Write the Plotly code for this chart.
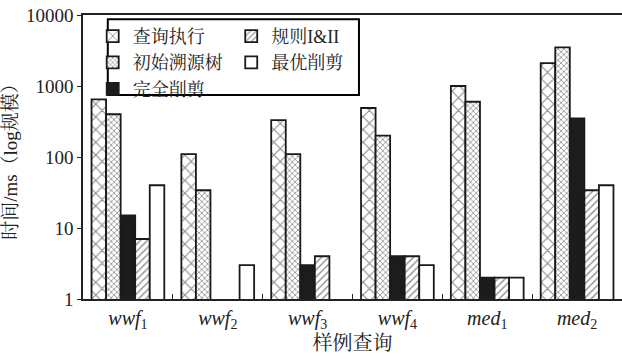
import plotly.graph_objects as go

# Sample queries (x categories)
queries = ["<i>wwf</i><sub>1</sub>", "<i>wwf</i><sub>2</sub>", "<i>wwf</i><sub>3</sub>",
           "<i>wwf</i><sub>4</sub>", "<i>med</i><sub>1</sub>", "<i>med</i><sub>2</sub>"]

# Execution time in ms for each method (None = no bar)
query_exec = [650, 110, 330, 490, 1000, 2100]       # 查询执行
initial_tree = [400, 34, 110, 200, 600, 3500]       # 初始溯源树
full_prune = [15, None, 3, 4, 2, 350]               # 完全削剪
rule_12 = [7, None, 4, 4, 2, 34]                    # 规则I&II
optimal_prune = [40, 3, None, 3, 2, 40]             # 最优削剪

FONT = "Liberation Serif, Noto Serif CJK SC, Noto Sans CJK SC, serif"
INK = "#222"

series = [
    ("查询执行", query_exec, dict(shape="x", size=9, solidity=0.24, fgcolor="#1e1e1e", bgcolor="white"), "legend", 1),
    ("初始溯源树", initial_tree, dict(shape="x", size=4, solidity=0.4, fgcolor="#333", bgcolor="white"), "legend", 2),
    ("完全削剪", full_prune, None, "legend", 3),
    ("规则I&II", rule_12, dict(shape="/", size=5, solidity=0.3, fgcolor="#333", bgcolor="white"), "legend2", 1),
    ("最优削剪", optimal_prune, None, "legend2", 2),
]

fig = go.Figure()
for name, vals, pattern, leg, rank in series:
    color = "#1c1c1c" if name == "完全削剪" else "white"
    marker = dict(color=color, line=dict(color="#1a1a1a", width=1.8))
    if pattern:
        marker["pattern"] = pattern
    fig.add_trace(go.Bar(name=name, x=queries, y=vals, marker=marker,
                         legend=leg, legendrank=rank))

legend_common = dict(
    orientation="v", xref="paper", yref="paper", xanchor="left", yanchor="top",
    bgcolor="rgba(255,255,255,0)", borderwidth=0,
    font=dict(family=FONT, size=18, color=INK),
    tracegroupgap=0, itemwidth=30,
)

# frame around both legend columns
fig.add_shape(type="rect", xref="paper", yref="paper",
              x0=0.046, x1=0.512, y0=0.718, y1=0.985,
              line=dict(color="black", width=2))

fig.update_layout(
    width=622, height=359,
    margin=dict(l=83, r=0, t=15, b=60),
    paper_bgcolor="white", plot_bgcolor="white",
    barmode="group", bargap=0.19, bargroupgap=0,
    font=dict(family=FONT, size=18, color=INK),
    legend=dict(x=0.018, y=0.99, **legend_common),
    legend2=dict(x=0.275, y=0.99, **legend_common),
    xaxis=dict(
        showline=True, linecolor=INK, linewidth=1.5, mirror=True,
        ticks="inside", tickson="boundaries", ticklen=5, tickcolor=INK,
        tickfont=dict(family=FONT, size=20, color=INK),
        title=dict(text="样例查询", font=dict(family=FONT, size=20, color=INK), standoff=4),
    ),
    yaxis=dict(
        type="log", range=[0, 4],
        tickvals=[1, 10, 100, 1000, 10000], ticktext=["1", "10", "100", "1000", "10000"],
        showline=True, linecolor=INK, linewidth=1.5, mirror=False,
        ticks="outside", ticklen=4, tickcolor=INK, showgrid=False,
        tickfont=dict(family=FONT, size=19, color=INK),
        title=dict(text="时间/ms（log规模）", font=dict(family=FONT, size=19, color=INK), standoff=8),
    ),
)

fig.write_html("out.html")
